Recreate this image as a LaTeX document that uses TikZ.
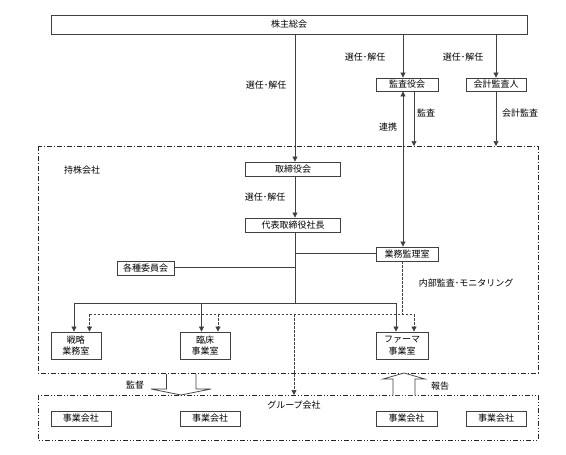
\documentclass[tikz,border=0pt]{standalone}
\usepackage{fontspec}
\setmainfont{Noto Sans CJK JP}
\usetikzlibrary{arrows.meta}
\definecolor{lc}{HTML}{404040}
\begin{document}
\begin{tikzpicture}[x=1pt,y=-1pt,
  txt/.style={font=\fontsize{9}{11.5}\selectfont},
  box/.style={draw=lc, fill=white, line width=0.8pt, inner sep=0pt, txt, align=center},
  lab/.style={inner sep=0pt, txt},
  ln/.style={draw=lc, line width=0.7pt},
  arr/.style={ln, -{Triangle[length=5pt,width=5pt]}},
  darr/.style={ln, {Triangle[length=5pt,width=5pt]}-{Triangle[length=5pt,width=5pt]}},
  dsh/.style={ln, dash pattern=on 2.5pt off 1.5pt},
  dasharr/.style={dsh, -{Triangle[length=5pt,width=5pt]}},
  dashdot/.style={draw=black!85, line width=1pt, dash pattern=on 5pt off 2pt on 1pt off 2pt},
  dashdotdot/.style={draw=black!85, line width=1pt, dash pattern=on 5pt off 2pt on 1pt off 2pt on 1pt off 2pt},
  hollow/.style={draw=lc, line width=0.7pt, fill=white}]
\useasboundingbox (0,0) rectangle (566,455);

% frames
\draw[dashdot] (38,146) rectangle (538,373);
\draw[dashdotdot] (38,395) rectangle (538,440);

% boxes
\node[box, minimum width=476pt, minimum height=19pt] (top) at (289,24.5) {株主総会};
\node[box, minimum width=62pt, minimum height=13pt] (kansa) at (407,84.5) {監査役会};
\node[box, minimum width=60pt, minimum height=13pt] (kaikei) at (496,84.5) {会計監査人};
\node[box, minimum width=95pt, minimum height=14pt] (tori) at (293,169) {取締役会};
\node[box, minimum width=95pt, minimum height=14pt] (daihyo) at (293,225) {代表取締役社長};
\node[box, minimum width=62pt, minimum height=14pt] (gyomu) at (407,254) {業務監理室};
\node[box, minimum width=57pt, minimum height=14pt] (kakushu) at (145.5,268) {各種委員会};
\node[box, minimum width=50pt, minimum height=27pt] (senryaku) at (76,345.5) {戦略\\業務室};
\node[box, minimum width=50pt, minimum height=27pt] (rinsho) at (205,345.5) {臨床\\事業室};
\node[box, minimum width=52pt, minimum height=27pt] (pharma) at (402,345.5) {ファーマ\\事業室};
\node[box, minimum width=60pt, minimum height=15pt] (jg1) at (81,418.5) {事業会社};
\node[box, minimum width=60pt, minimum height=15pt] (jg2) at (210,418.5) {事業会社};
\node[box, minimum width=61pt, minimum height=15pt] (jg3) at (406.5,418.5) {事業会社};
\node[box, minimum width=60pt, minimum height=15pt] (jg4) at (496,418.5) {事業会社};

% labels
\node[lab] (l1) at (266,85) {選任･解任};
\node[lab] (l2) at (365,57) {選任･解任};
\node[lab] (l3) at (463,57) {選任･解任};
\node[lab] (l4) at (426,113) {監査};
\node[lab] (l5) at (520,113) {会計監査};
\node[lab] (l6) at (388,127) {連携};
\node[lab] (l7) at (82,170) {持株会社};
\node[lab] (l8) at (265,197) {選任･解任};
\node[lab] (l9) at (466,283) {内部監査･モニタリング};
\node[lab] (l10) at (135,385) {監督};
\node[lab] (l11) at (440,386) {報告};
\node[lab] (l12) at (294,405) {グループ会社};

% helper coordinates
\coordinate (xA) at (295,0);
\coordinate (xB) at (403,0);
\coordinate (xC) at (496,0);
\coordinate (xD) at (414,0);
\coordinate (frameTopD) at (414,146);
\coordinate (frameTopC) at (496,146);
\coordinate (jn) at (295,303);
\coordinate (jL) at (74,303);
\coordinate (jM) at (201.5,303);
\coordinate (jR) at (396,303);
\coordinate (gj) at (295,253);
\coordinate (kj) at (295,267);
\coordinate (dn) at (402,314);
\coordinate (dL) at (89.5,314);
\coordinate (dM) at (218,314);
\coordinate (dC) at (294,314);
\coordinate (dR) at (414,314);
\coordinate (grpTop) at (294,395);

% solid connectors
\draw[arr] (top.south -| xA) -- (tori.north -| xA);
\draw[arr] (top.south -| xB) -- (kansa.north -| xB);
\draw[arr] (top.south -| xC) -- (kaikei.north -| xC);
\draw[arr] (kansa.south -| xD) -- (frameTopD);
\draw[arr] (kaikei.south -| xC) -- (frameTopC);
\draw[darr] (gyomu.north -| xB) -- (kansa.south -| xB);
\draw[arr] (tori.south -| xA) -- (daihyo.north -| xA);
\draw[ln] (daihyo.south -| xA) -- (jn);
\draw[ln] (jL) -- (jR);
\draw[arr] (jL) -- (senryaku.north -| jL);
\draw[arr] (jM) -- (rinsho.north -| jM);
\draw[arr] (jR) -- (pharma.north -| jR);
\draw[ln] (gj) -- (gyomu.west |- gj);
\draw[ln] (kakushu.east |- kj) -- (kj);

% dashed connectors
\draw[dsh] (gyomu.south -| dn) -- (dn);
\draw[dsh] (dL) -- (dR);
\draw[dasharr] (dL) -- (senryaku.north -| dL);
\draw[dasharr] (dM) -- (rinsho.north -| dM);
\draw[dasharr] (dR) -- (pharma.north -| dR);
\draw[dasharr] (dC) -- (grpTop);

% hollow arrows
\draw[hollow] (166.5,374) -- (166.5,389) -- (151,389) -- (181,395) -- (211,389) -- (196,389) -- (196,374);
\draw[hollow] (393,395) -- (393,379) -- (383,379) -- (404,373) -- (425,379) -- (415,379) -- (415,395);
\end{tikzpicture}
\end{document}
